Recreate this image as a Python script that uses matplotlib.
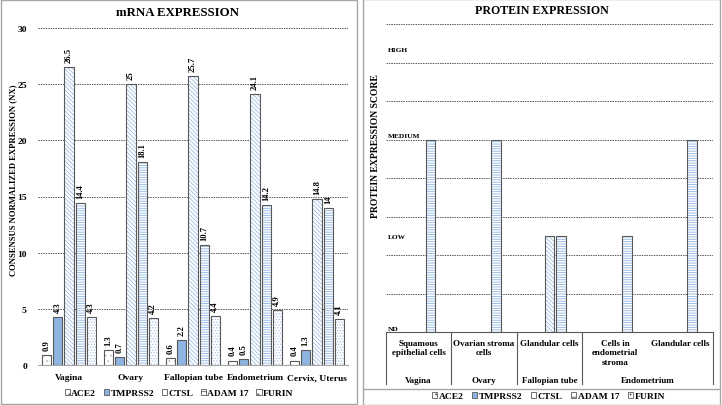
import numpy as np
import matplotlib
matplotlib.use("Agg")
import matplotlib.pyplot as plt
from matplotlib.patches import Rectangle, Patch
from matplotlib.lines import Line2D

plt.rcParams['font.family'] = ['Liberation Serif', 'DejaVu Serif']
plt.rcParams['font.weight'] = 'bold'
plt.rcParams['hatch.linewidth'] = 0.6

# mRNA data
tissues = ["Vagina", "Ovary", "Fallopian tube", "Endometrium", "Cervix, Uterus"]
genes = ["ACE2", "TMPRSS2", "CTSL", "ADAM 17", "FURIN"]
ace2 = [0.9, 1.3, 0.6, 0.4, 0.4]
tmprss2 = [4.3, 0.7, 2.2, 0.5, 1.3]
ctsl = [26.5, 25, 25.7, 24.1, 14.8]
adam17 = [14.4, 18.1, 10.7, 14.2, 14]
furin = [4.3, 4.2, 4.4, 4.9, 4.1]

# protein data (0 = ND, 1 = LOW, 2 = MEDIUM, 3 = HIGH)
cell_types = ["Squamous\nepithelial cells", "Ovarian stroma\ncells", "Glandular cells",
              "Cells in\nendometrial\nstroma", "Glandular cells"]
organs = ["Vagina", "Ovary", "Fallopian tube", "Endometrium"]
organ_span = [1, 1, 1, 2]
levels = ["ND", "LOW", "MEDIUM", "HIGH"]
prot_ace2 = [0, 0, 0, 0, 0]
prot_tmprss2 = [0, 0, 0, 0, 0]
prot_ctsl = [0, 0, 1, 0, 0]
prot_adam17 = [2, 2, 1, 1, 2]
prot_furin = [0, 0, 0, 0, 0]

edge = '#595959'
hatch_col = '#8db3e2'
styles = [
    dict(face='white', hatch='...', hc='#bfbfbf'),           # ACE2
    dict(face='#8eb4e3', hatch=None, hc=None),               # TMPRSS2
    dict(face='white', hatch='\\' * 8, hc='#9dbde6'),        # CTSL
    dict(face='white', hatch='-' * 7, hc=hatch_col),         # ADAM 17
    dict(face='white', hatch='.' * 6, hc='#a9c4e8'),         # FURIN
]

step = 0.18
width = 0.148


def draw_bars(ax, x, vals, st):
    if st['hatch']:
        ax.bar(x, vals, width, color='white', edgecolor=st['hc'], hatch=st['hatch'], linewidth=0, zorder=3)
        ax.bar(x, vals, width, facecolor='none', edgecolor=edge, linewidth=0.8, zorder=4)
    else:
        ax.bar(x, vals, width, color=st['face'], edgecolor=edge, linewidth=0.8, zorder=3)


def legend_handles():
    hs = []
    for st in styles:
        if st['hatch']:
            hs.append(Patch(facecolor='white', edgecolor=edge, hatch=st['hatch'][:3], linewidth=0.6))
        else:
            hs.append(Patch(facecolor=st['face'], edgecolor=edge, linewidth=0.6))
    return hs


fig = plt.figure(figsize=(7.22, 4.06), dpi=100)
W, H = 722, 406


def fx(px):
    return px / W


def fy(py):
    return 1 - py / H


# panel frames
fig.patches.append(Rectangle((fx(0.5), fy(405)), fx(356.5), 404.5 / H, transform=fig.transFigure,
                             fill=False, edgecolor='#a6a6a6', linewidth=1))
fig.patches.append(Rectangle((fx(363), fy(406)), fx(357), 406 / H, transform=fig.transFigure,
                             fill=False, edgecolor='#a6a6a6', linewidth=1))
fig.lines.append(Line2D([fx(363), fx(720)], [fy(390), fy(390)], transform=fig.transFigure,
                        color='#a6a6a6', linewidth=1))

# ---------- mRNA ----------
ax1 = fig.add_axes([fx(38), fy(366), fx(310), 337 / H])
x = np.arange(len(tissues))
series = [ace2, tmprss2, ctsl, adam17, furin]
for i, (vals, st) in enumerate(zip(series, styles)):
    xs = x + (i - 2) * step
    draw_bars(ax1, xs, vals, st)
    for xi, v in zip(xs, vals):
        ax1.text(xi, v + 0.45, f"{v:g}", rotation=90, ha='center', va='bottom', fontsize=6.2, fontweight='bold')

ax1.set_xlim(-0.5, 4.5)
ax1.set_ylim(0, 30)
ax1.set_yticks(range(0, 31, 5))
ax1.set_xticks(x)
ax1.set_xticklabels(tissues, fontsize=6.8, fontweight='bold')
ax1.tick_params(length=0, labelsize=6.8)
ax1.tick_params(axis='y', pad=8)
ax1.tick_params(axis='x', pad=6)
ax1.yaxis.grid(True, linestyle=(0, (1.5, 1)), color='#595959', linewidth=0.7)
ax1.set_axisbelow(True)
for s in ['top', 'right', 'left']:
    ax1.spines[s].set_visible(False)
ax1.spines['bottom'].set_color('#a6a6a6')
ax1.set_ylabel("CONSENSUS NORMALIZED EXPRESSION (NX)", fontsize=6.2, fontweight='bold')
ax1.yaxis.set_label_coords(-0.068, 0.552)
ax1.text(0.45, 1.0 + 16 / 337, "mRNA EXPRESSION", transform=ax1.transAxes, ha='center', va='center',
         fontsize=9.3, fontweight='bold')
ax1.legend(legend_handles(), genes, loc='center', bbox_to_anchor=(0.455, -0.083), ncol=5,
           frameon=False, fontsize=6.8, handlelength=0.55, handleheight=0.55, handletextpad=0.15,
           columnspacing=0.8, borderaxespad=0)

# ---------- protein ----------
ax2 = fig.add_axes([fx(386), fy(333), fx(327), 308 / H])
xp = np.arange(len(cell_types))
pseries = [prot_ace2, prot_tmprss2, prot_ctsl, prot_adam17, prot_furin]
for i, (vals, st) in enumerate(zip(pseries, styles)):
    vals = np.array(vals, dtype=float)
    m = vals > 0
    draw_bars(ax2, (xp + (i - 2) * step)[m], vals[m], st)

ax2.set_xlim(-0.5, 4.5)
ax2.set_ylim(0, 3.2)
ax2.set_yticks(np.arange(0.4, 3.21, 0.4))
ax2.set_yticklabels([])
ax2.set_xticks([])
ax2.tick_params(length=0)
ax2.yaxis.grid(True, linestyle=(0, (1.5, 1)), color='#595959', linewidth=0.7)
ax2.set_axisbelow(True)
for s in ['top', 'right', 'left']:
    ax2.spines[s].set_visible(False)
ax2.spines['bottom'].set_color('#595959')
ax2.spines['bottom'].set_linewidth(0.8)
level_y = [0.04, 0.99, 2.04, 2.94]
for lab, ly in zip(levels, level_y):
    ax2.text(-0.47, ly, lab, fontsize=5.3, fontweight='bold', ha='left', va='center', zorder=5)
ax2.set_ylabel("PROTEIN EXPRESSION SCORE", fontsize=6.9, fontweight='bold')
ax2.yaxis.set_label_coords(-0.018, 0.607)
ax2.text(0.477, 1.0 + 14 / 308, "PROTEIN EXPRESSION", transform=ax2.transAxes, ha='center', va='center',
         fontsize=8.6, fontweight='bold')

# two-level category table under the axis
tr = ax2.get_xaxis_transform()
bounds = np.concatenate([[0], np.cumsum(organ_span)]) - 0.5
for b in bounds:
    ax2.plot([b, b], [0, -0.169], transform=tr, color='#595959', linewidth=0.8, clip_on=False)
for xi, lab in zip(xp, cell_types):
    ax2.text(xi, -0.022, lab, transform=tr, ha='center', va='top', fontsize=6.5,
             fontweight='bold', linespacing=1.25)
for k, lab in enumerate(organs):
    ax2.text((bounds[k] + bounds[k + 1]) / 2, -0.155, lab, transform=tr, ha='center', va='center',
             fontsize=6.5, fontweight='bold')

ax2.legend(legend_handles(), genes, loc='center', bbox_to_anchor=(0.497, -0.208), ncol=5,
           frameon=False, fontsize=6.8, handlelength=0.55, handleheight=0.55, handletextpad=0.15,
           columnspacing=0.9, borderaxespad=0)

fig.savefig("out.png", dpi=100)
